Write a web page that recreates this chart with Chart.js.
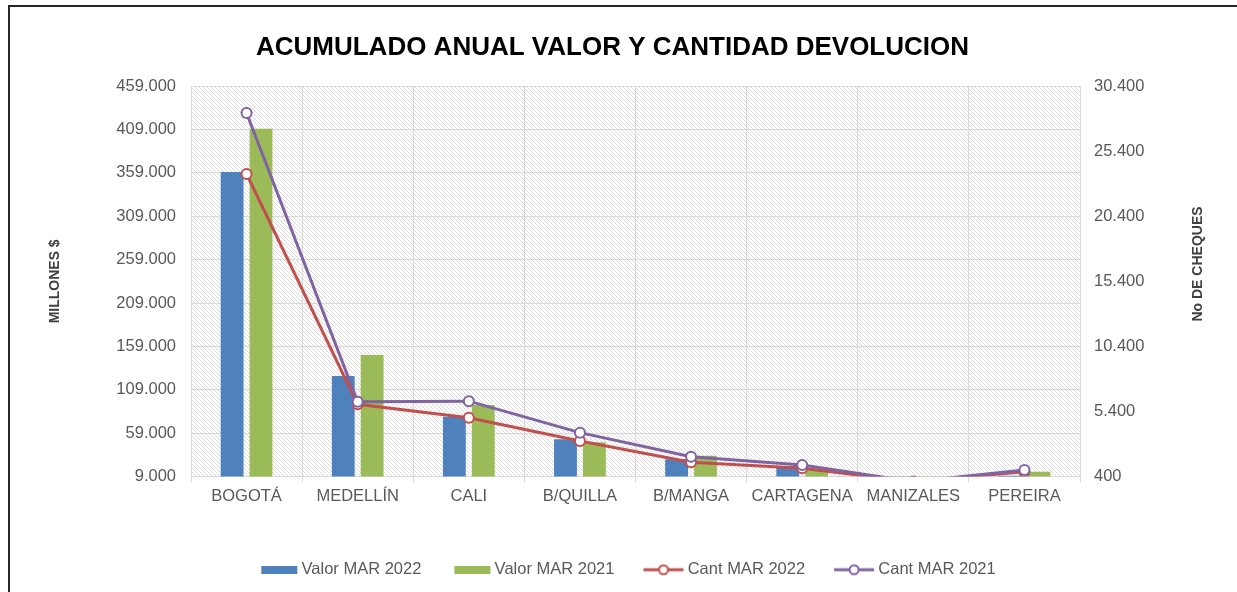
<!DOCTYPE html>
<html>
<head>
<meta charset="utf-8">
<script src="https://cdn.jsdelivr.net/npm/chart.js@4/dist/chart.umd.min.js"></script>
<style>
  html, body { margin: 0; padding: 0; background: #fff; }
  #wrap { position: relative; width: 1237px; height: 592px; overflow: hidden; }
  #c { position: absolute; left: 0; top: 0; }
  #frame { position: absolute; left: 8px; top: 5px; width: 1240px; height: 600px;
           border-left: 2px solid #262626; border-top: 2px solid #262626; pointer-events: none; }
</style>
</head>
<body>
<div id="wrap">
  <canvas id="c" width="1237" height="592"></canvas>
  <div id="frame"></div>
</div>
<script>
// ---- data ----
const chartTitle = 'ACUMULADO ANUAL VALOR Y CANTIDAD DEVOLUCION';
const leftAxisTitle = 'MILLONES $';
const rightAxisTitle = 'No DE CHEQUES';
const categories = ['BOGOTÁ', 'MEDELLÍN', 'CALI', 'B/QUILLA', 'B/MANGA', 'CARTAGENA', 'MANIZALES', 'PEREIRA'];
const seriesNames = ['Valor MAR 2022', 'Valor MAR 2021', 'Cant MAR 2022', 'Cant MAR 2021'];
const valorMar2022 = [360000, 125000, 78000, 52000, 29000, 21000, 9000, 10000];
const valorMar2021 = [410000, 149000, 91500, 48500, 33000, 17500, 9000, 14500];
const cantMar2022 = [23650, 5950, 4920, 3130, 1490, 1030, 0, 770];
const cantMar2021 = [28340, 6150, 6190, 3770, 1920, 1290, 0, 900];
const leftTicks = [9000, 59000, 109000, 159000, 209000, 259000, 309000, 359000, 409000, 459000];
const rightTicks = [400, 5400, 10400, 15400, 20400, 25400, 30400];

const C_BLUE = '#4f81bd', C_GREEN = '#9bbb59', C_RED = '#c0504d', C_PURPLE = '#8064a2';
const FONT = "'Liberation Sans', Arial, sans-serif";
const TICK_COLOR = '#595959';
const GRID = '#d9d9d9';

function fmt(v) { return String(v).replace(/\B(?=(\d{3})+(?!\d))/g, '.'); }

// hatch pattern for plot area
function makeHatch() {
  const t = document.createElement('canvas');
  t.width = 4; t.height = 4;
  const g = t.getContext('2d');
  g.fillStyle = '#ffffff'; g.fillRect(0, 0, 4, 4);
  g.fillStyle = '#dadada';
  for (let i = 0; i < 4; i++) g.fillRect(i, i, 1, 1);
  return t;
}
const hatchTile = makeHatch();

// legend symbols
function barSymbol(color) {
  const c = document.createElement('canvas');
  c.width = 44; c.height = 8;
  const g = c.getContext('2d');
  g.fillStyle = color; g.fillRect(6, 0, 36, 8);
  return c;
}
function lineSymbol(color) {
  const c = document.createElement('canvas');
  c.width = 48; c.height = 14;
  const g = c.getContext('2d');
  g.strokeStyle = color; g.lineWidth = 3;
  g.beginPath(); g.moveTo(4, 7); g.lineTo(44, 7); g.stroke();
  g.beginPath(); g.arc(24, 7, 4.5, 0, Math.PI * 2);
  g.fillStyle = '#fff'; g.fill(); g.lineWidth = 2; g.stroke();
  return c;
}
const legendSymbols = [barSymbol(C_BLUE), barSymbol(C_GREEN), lineSymbol(C_RED), lineSymbol(C_PURPLE)];

const hatchPlugin = {
  id: 'hatch',
  beforeDraw(chart) {
    const {ctx, chartArea: a} = chart;
    ctx.save();
    ctx.fillStyle = ctx.createPattern(hatchTile, 'repeat');
    ctx.fillRect(a.left, a.top, a.right - a.left, a.bottom - a.top);
    ctx.restore();
  }
};
const rightTitlePlugin = {
  id: 'rightTitle',
  afterDraw(chart) {
    const {ctx} = chart;
    ctx.save();
    ctx.translate(1198, 264);
    ctx.rotate(-Math.PI / 2);
    ctx.font = 'bold 14px ' + FONT;
    ctx.fillStyle = '#404040';
    ctx.textAlign = 'center';
    ctx.textBaseline = 'middle';
    ctx.fillText(rightAxisTitle, 0, 0);
    ctx.restore();
  }
};
const legendShiftPlugin = {
  id: 'legendShift',
  afterLayout(chart) {
    const lg = chart.legend;
    if (lg) { lg.left += 16; lg.right += 16; }
  }
};

const lineCommon = {
  type: 'line', yAxisID: 'y1', borderWidth: 3, pointRadius: 5, pointBorderWidth: 2,
  pointBackgroundColor: '#ffffff', tension: 0, clip: 0, fill: false
};

new Chart(document.getElementById('c'), {
  data: {
    labels: categories,
    datasets: [
      { type: 'bar', label: seriesNames[0], data: valorMar2022, backgroundColor: C_BLUE, yAxisID: 'y', order: 2,
        categoryPercentage: 0.52, barPercentage: 0.79 },
      { type: 'bar', label: seriesNames[1], data: valorMar2021, backgroundColor: C_GREEN, yAxisID: 'y', order: 3,
        categoryPercentage: 0.52, barPercentage: 0.79 },
      Object.assign({}, lineCommon, { label: seriesNames[2], data: cantMar2022, borderColor: C_RED, pointBorderColor: C_RED, order: 1 }),
      Object.assign({}, lineCommon, { label: seriesNames[3], data: cantMar2021, borderColor: C_PURPLE, pointBorderColor: C_PURPLE, order: 0 })
    ]
  },
  options: {
    responsive: false,
    animation: false,
    layout: { padding: { left: 0, right: 12, top: 0, bottom: 4 } },
    plugins: {
      title: {
        display: true, text: chartTitle, color: '#000',
        font: { family: FONT, size: 26, weight: 'bold' },
        padding: { top: 32, bottom: 23 }
      },
      legend: {
        position: 'bottom',
        labels: {
          usePointStyle: true, pointStyleWidth: 32, padding: 33, color: TICK_COLOR,
          font: { family: FONT, size: 16.5 },
          generateLabels(chart) {
            return chart.data.datasets.map((ds, i) => ({
              text: ds.label, pointStyle: legendSymbols[i], fillStyle: 'transparent',
              strokeStyle: 'transparent', lineWidth: 0, hidden: false, datasetIndex: i, fontColor: TICK_COLOR
            }));
          }
        }
      },
      tooltip: { enabled: false }
    },
    scales: {
      x: {
        offset: true,
        grid: { color: GRID, offset: true, tickLength: 6, drawTicks: true, tickColor: GRID },
        border: { color: GRID },
        ticks: { color: TICK_COLOR, font: { family: FONT, size: 16.5 }, padding: 4, maxRotation: 0, autoSkip: false },
        afterFit(s) { s.height = 52; }
      },
      y: {
        position: 'left', min: leftTicks[0], max: leftTicks[leftTicks.length - 1],
        afterBuildTicks(s) { s.ticks = leftTicks.map(v => ({ value: v })); },
        grid: { color: GRID, drawTicks: false },
        border: { color: GRID },
        ticks: { color: TICK_COLOR, font: { family: FONT, size: 16.5 }, padding: 15, callback: v => fmt(v) },
        title: { display: true, text: leftAxisTitle, color: '#404040', font: { family: FONT, size: 14, weight: 'bold' }, padding: { top: 47, bottom: 0 } },
        afterFit(s) { s.width = 191; }
      },
      y1: {
        position: 'right', min: rightTicks[0], max: rightTicks[rightTicks.length - 1],
        afterBuildTicks(s) { s.ticks = rightTicks.map(v => ({ value: v })); },
        grid: { drawOnChartArea: false, drawTicks: false },
        border: { display: false },
        ticks: { color: TICK_COLOR, font: { family: FONT, size: 16.5 }, padding: 14, callback: v => fmt(v) },
        afterFit(s) { s.width = 145; }
      }
    }
  },
  plugins: [hatchPlugin, rightTitlePlugin, legendShiftPlugin]
});
</script>
</body>
</html>
